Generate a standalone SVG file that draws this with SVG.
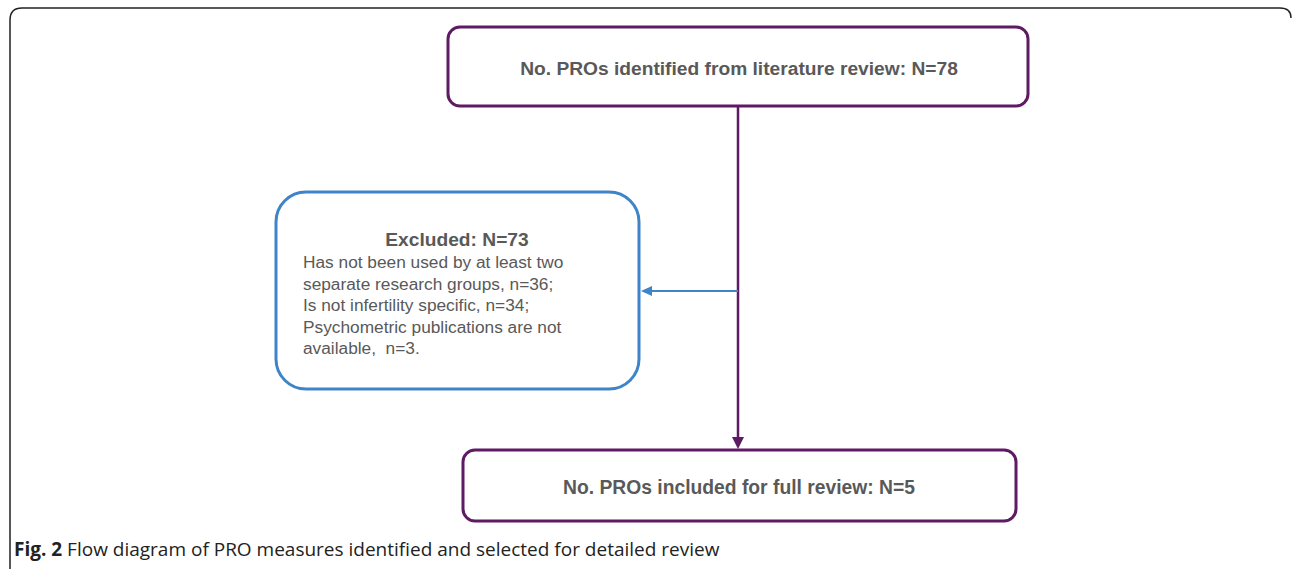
<svg xmlns="http://www.w3.org/2000/svg" width="1292" height="569" viewBox="0 0 1292 569">
<defs>
<style>
.pbox{fill:#fff;stroke:#5e1a62;stroke-width:3}
.bbox{fill:#fff;stroke:#3d85c8;stroke-width:3}
.t{font-family:"Liberation Sans",Arial,sans-serif;fill:#595959}
.b{font-weight:bold}
.cap{font-family:"Open Sans","Noto Sans",sans-serif;fill:#222;font-size:19px}
</style>
</defs>
<rect width="1292" height="569" fill="#fff"/>
<path d="M10,569 V20 Q10,8 22,8 H1280 Q1291,8 1291,18" fill="none" stroke="#222" stroke-width="1.5"/>
<g id="connectors">
<line x1="738" y1="106" x2="738" y2="440" stroke="#5e1a62" stroke-width="2.5"/>
<path d="M732,437 L744,437 L738,449 Z" fill="#5e1a62"/>
<line x1="738" y1="291" x2="650" y2="291" stroke="#3d85c8" stroke-width="2"/>
<path d="M641,291 L652,286 L652,296 Z" fill="#3d85c8"/>
</g>
<g id="node-identified">
<rect class="pbox" x="448" y="27" width="580" height="79" rx="12"/>
<text class="t b" x="739" y="75" text-anchor="middle" font-size="19.2">No. PROs identified from literature review: N=78</text>
</g>
<g id="node-excluded">
<rect class="bbox" x="276" y="192" width="363" height="197" rx="30"/>
<text class="t b" x="457" y="246" text-anchor="middle" font-size="19.2">Excluded: N=73</text>
<text class="t" font-size="17.3" xml:space="preserve"><tspan x="303" y="268">Has not been used by at least two</tspan><tspan x="303" y="290">separate research groups, n=36;</tspan><tspan x="303" y="311">Is not infertility specific, n=34;</tspan><tspan x="303" y="333">Psychometric publications are not</tspan><tspan x="303" y="354">available,  n=3.</tspan></text>
</g>
<g id="node-included">
<rect class="pbox" x="463" y="450" width="553" height="71" rx="12"/>
<text class="t b" x="739" y="494" text-anchor="middle" font-size="19.3">No. PROs included for full review: N=5</text>
</g>
<text class="cap" x="14" y="556"><tspan font-weight="bold">Fig. 2</tspan> Flow diagram of PRO measures identified and selected for detailed review</text>
</svg>
